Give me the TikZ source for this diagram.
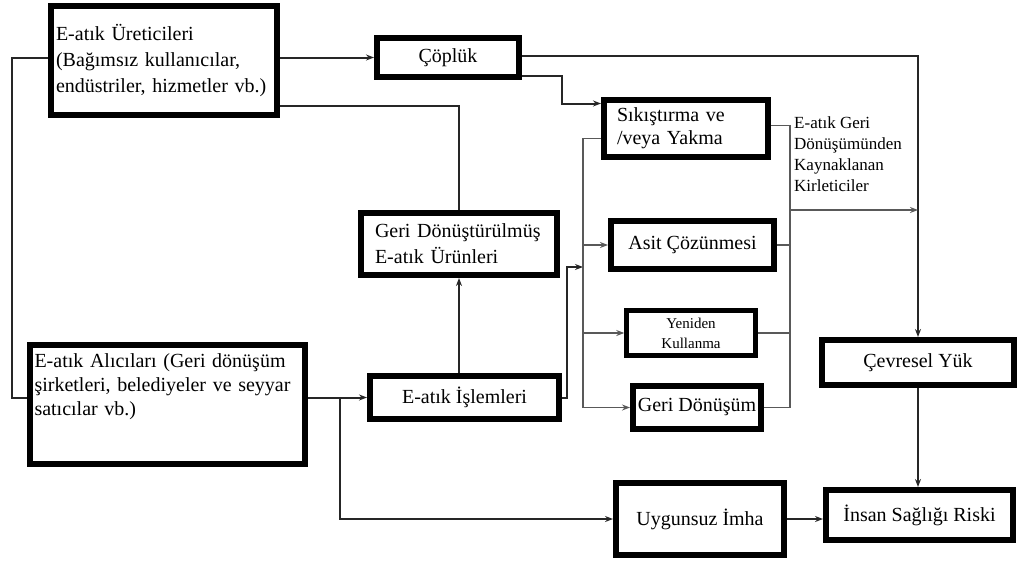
\documentclass[tikz,border=0pt]{standalone}
\usepackage{fontspec}
\setmainfont{Liberation Serif}
\usetikzlibrary{arrows.meta}

\tikzset{
  box/.style={draw, line width=6pt, inner sep=0pt, align=center,
    font=\fontsize{20}{26}\selectfont},
  link/.style={line width=2pt, draw=black!85},
  bus/.style={line width=1.9pt, draw=black!65},
}

\begin{document}
\begin{tikzpicture}[line join=miter,>={Stealth[length=8pt,width=6pt]},x=1pt,y=-1pt]
\useasboundingbox (0,0) rectangle (1019,562);
% boxes
\node[box,minimum width=226,minimum height=109,text width=216,align=left] (prod) at (164,60.5)
  {E-atık Üreticileri\\(Bağımsız kullanıcılar,\\endüstriler, hizmetler vb.)};
\node[box,minimum width=142,minimum height=39] (dump) at (448,57.5) {Çöplük};
\node[box,minimum width=164,minimum height=57,text width=138,align=left,
  font=\fontsize{20}{23}\selectfont] (burn) at (686,128.5) {Sıkıştırma ve\\/veya Yakma};
\node[box,minimum width=196,minimum height=62,text width=168,align=left] (recprod) at (459,244)
  {Geri Dönüştürülmüş\\E-atık Ürünleri};
\node[box,minimum width=163,minimum height=48] (acid) at (692.5,245) {Asit Çözünmesi};
\node[box,line width=4.5pt,minimum width=129,minimum height=45,
  font=\fontsize{15}{20}\selectfont] (reuse) at (691,333) {Yeniden\\Kullanma};
\node[box,minimum width=128,minimum height=43] (recyc) at (697,407.5) {Geri Dönüşüm};
\node[box,minimum width=189,minimum height=43] (proc) at (464.5,397.5) {E-atık İşlemleri};
\node[box,minimum width=275,minimum height=119,text width=266,align=left,
  font=\fontsize{20}{24}\selectfont] (coll) at (167.5,404.5)
  {E-atık Alıcıları (Geri dönüşüm\\şirketleri, belediyeler ve seyyar\\satıcılar vb.)\rule[-40pt]{0pt}{0pt}};
\node[box,minimum width=192,minimum height=45] (env) at (918,362.5) {Çevresel Yük};
\node[box,minimum width=168,minimum height=72] (improper) at (700,519) {Uygunsuz İmha};
\node[box,minimum width=187,minimum height=50] (health) at (919.5,515) {İnsan Sağlığı Riski};
\node[font=\fontsize{17}{21}\selectfont,align=left,anchor=north west,inner sep=0pt] (pollut)
  at (794,117) {E-atık Geri\\Dönüşümünden\\Kaynaklanan\\Kirleticiler};

% helper points
\coordinate (lbus) at (583,0);
\coordinate (rbus) at (790,0);
\coordinate (split) at (340,397.5);
\coordinate (join) at (583,267);
\coordinate (out) at (790,210);

% connectors
\draw[link] (prod.west |- dump.west) -- (12,57.5) |- (coll.west |- proc.west);
\draw[link,->] (prod.east |- dump.west) -- (dump.west);
\draw[link] ([yshift=-45pt]prod.east) -| (recprod.north);
\draw[link,->] ([yshift=2pt]dump.east) -| (env.north);
\draw[link,->] ([yshift=-18pt]dump.east) -- (562,75.5) |- ([yshift=25pt]burn.west);
\draw[link,->] (recprod.south |- proc.north) -- (recprod.south);
\draw[link,->] (coll.east |- proc.west) -- (proc.west);
\draw[link,->] (split) |- (improper.west);
\draw[link,->] (proc.east) -- ++(5,0) |- (join);
\draw[bus] ([yshift=-10pt]burn.west) -| (lbus |- recyc.west);
\foreach \n in {acid,reuse,recyc}
  \draw[bus,->] (lbus |- \n.west) -- (\n.west);
\draw[bus] ([yshift=3pt]burn.east) -| (rbus |- recyc.east);
\foreach \n in {acid,reuse,recyc}
  \draw[bus] (\n.east) -- (rbus |- \n.east);
\draw[bus,->] (out) -- (out -| env.north);
\draw[link,->] (env.south) -- (env.south |- health.north);
\draw[link,->] (improper.east) -- (improper.east -| health.west);
\end{tikzpicture}
\end{document}
